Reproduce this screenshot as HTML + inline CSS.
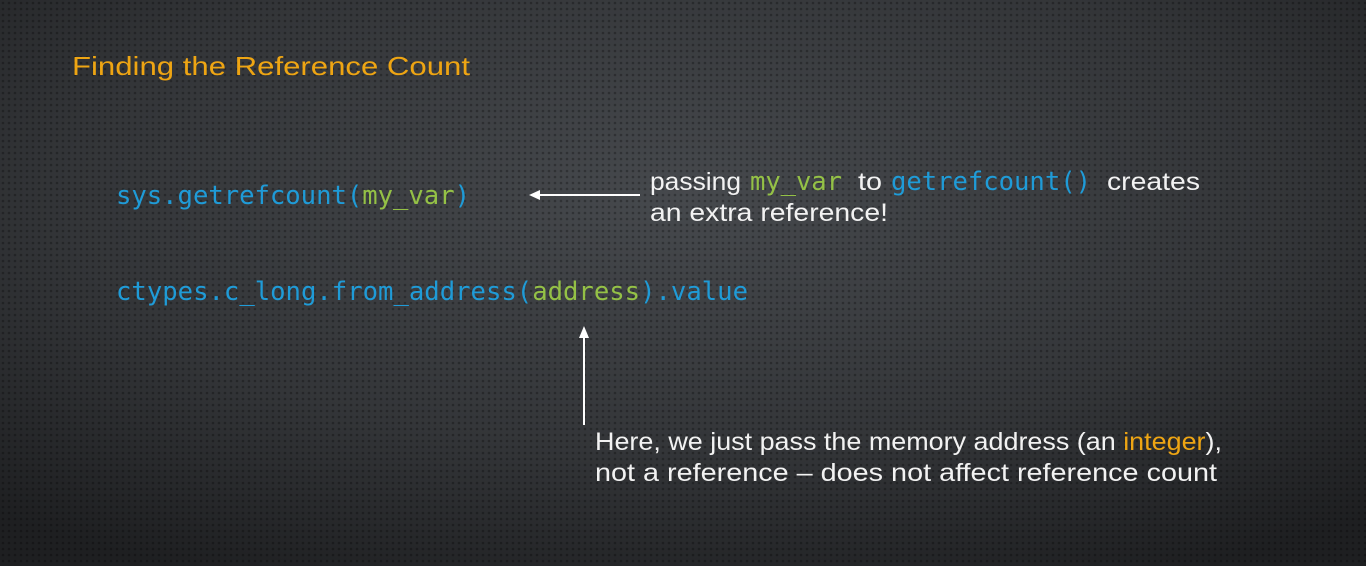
<!DOCTYPE html>
<html><head><meta charset="utf-8"><style>
html,body{margin:0;padding:0;}
body{width:1366px;height:566px;overflow:hidden;background:#2b2d30;}
svg{display:block}
.s{font-family:"Liberation Sans",sans-serif;fill:#f2f2f2;font-size:25px}
.m{font-family:"DejaVu Sans Mono","Liberation Mono",monospace;font-size:25.6px}
.b{fill:#1f9bd7}.g{fill:#94c146}
</style></head><body>
<svg width="1366" height="566" viewBox="0 0 1366 566">
<defs>
<radialGradient id="bg" cx="0.5" cy="0.35" r="0.75">
<stop offset="0" stop-color="#46494d"/><stop offset="0.6" stop-color="#333538"/><stop offset="1" stop-color="#1e1f21"/>
</radialGradient>
<pattern id="dots" width="6" height="6" patternUnits="userSpaceOnUse">
<circle cx="3" cy="3" r="1.3" fill="#000" fill-opacity="0.28"/>
</pattern>
</defs>
<rect width="1366" height="566" fill="url(#bg)"/>
<rect width="1366" height="566" fill="url(#dots)"/>
<text x="72" y="75" font-family="Liberation Sans,sans-serif" font-size="26" fill="#eea513" textLength="398" lengthAdjust="spacingAndGlyphs">Finding the Reference Count</text>
<text x="116" y="204" class="m b" textLength="354">sys.getrefcount(<tspan class="g">my_var</tspan>)</text>
<text x="116" y="300" class="m b" textLength="632">ctypes.c_long.from_address(<tspan class="g">address</tspan>).value</text>
<line x1="538" y1="195" x2="640" y2="195" stroke="#fff" stroke-width="2"/>
<polygon points="529,195 540,190 540,200" fill="#fff"/>
<line x1="584" y1="336" x2="584" y2="425" stroke="#fff" stroke-width="2"/>
<polygon points="584,326 579,338 589,338" fill="#fff"/>
<text x="650" y="190" class="s" textLength="91" lengthAdjust="spacingAndGlyphs">passing</text>
<text x="750" y="190" class="m g" textLength="92">my_var</text>
<text x="858" y="190" class="s" textLength="24" lengthAdjust="spacingAndGlyphs">to</text>
<text x="891" y="190" class="m b" textLength="200">getrefcount()</text>
<text x="1107" y="190" class="s" textLength="93" lengthAdjust="spacingAndGlyphs">creates</text>
<text x="650" y="221" class="s" textLength="238" lengthAdjust="spacingAndGlyphs">an extra reference!</text>
<text x="595" y="450" class="s" textLength="627" lengthAdjust="spacingAndGlyphs">Here, we just pass the memory address (an <tspan fill="#eea513">integer</tspan>),</text>
<text x="595" y="481" class="s" textLength="622" lengthAdjust="spacingAndGlyphs">not a reference – does not affect reference count</text>
</svg>
</body></html>
